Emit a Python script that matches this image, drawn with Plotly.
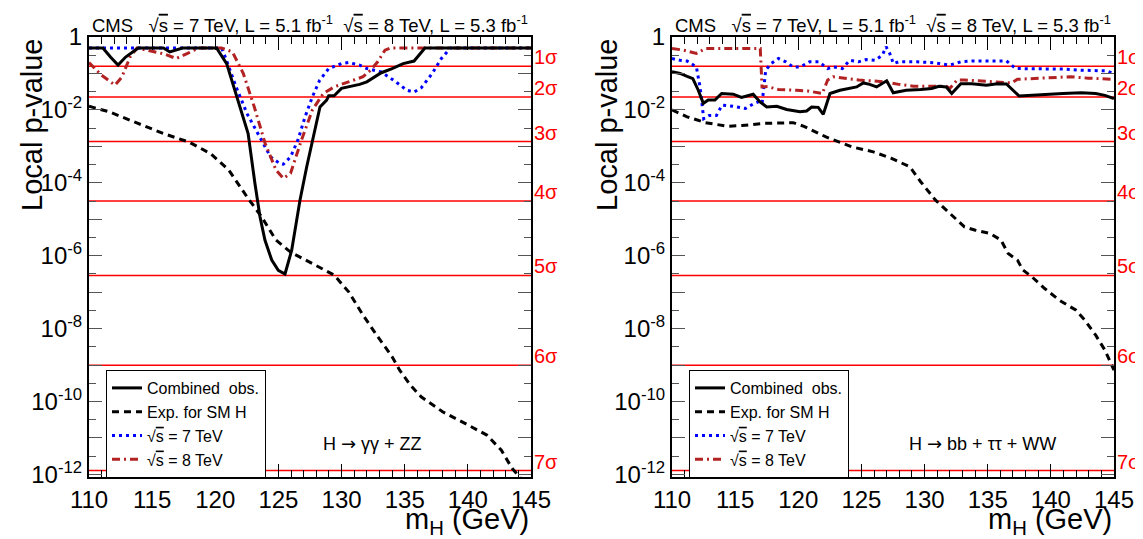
import numpy as np
import plotly.graph_objects as go

# ---- data, p-values stored as log10(p) ----
# left panel: H -> gamma gamma + ZZ
gz_obs_m = [110, 111.1, 111.7, 112.3, 112.9, 113.9, 115.9, 116.4, 117.4, 120.1, 120.9,
            121.7, 122.6, 123.14, 123.54, 123.93, 124.47, 124.99, 125.52, 126.05, 126.71,
            127.24, 127.9, 128.29, 128.82, 128.98, 129.41, 129.99, 131.43, 132.0, 133.15,
            134.0, 134.88, 135.74, 136.6, 145]
gz_obs_lp = [-0.301, -0.301, -0.55, -0.77, -0.55, -0.301, -0.301, -0.41, -0.301, -0.301, -0.73,
             -1.64, -2.65, -4.02, -4.93, -5.57, -6.12, -6.40, -6.50, -5.85, -4.47,
             -3.56, -2.47, -1.92, -1.73, -1.61, -1.61, -1.41, -1.30, -1.23, -0.98,
             -0.87, -0.73, -0.66, -0.301, -0.301]

gz_exp_m = [110, 111.58, 113.88, 115.9, 117.9, 119.63, 121.07, 122.5, 123.66, 124.8, 125.96,
            127.2, 129.41, 130.56, 131.7, 132.86, 134.0, 134.6, 135.45, 136.3, 138.0,
            139.77, 141.5, 142.64, 143.5, 144.08, 145]
gz_exp_lp = [-1.90, -2.05, -2.37, -2.65, -2.88, -3.2, -3.65, -4.38, -4.93, -5.57, -5.90,
             -6.12, -6.53, -6.99, -7.63, -8.22, -8.77, -9.14, -9.55, -9.87, -10.28,
             -10.6, -10.92, -11.33, -11.83, -12.06, -12.5]

gz_7_m = [110, 120.5, 120.79, 121.65, 122.51, 123.52, 124.38, 125.1, 125.39, 125.96, 126.54,
          127.11, 127.69, 128.26, 128.98, 129.99, 130.56, 131.43, 132.0, 133.15, 134.3,
          135.16, 135.74, 136.32, 137.18, 137.9, 138.62, 145]
gz_7_lp = [-0.301, -0.301, -0.55, -1.37, -2.10, -2.74, -3.29, -3.47, -3.49, -3.29, -2.83,
           -2.19, -1.64, -1.19, -0.865, -0.73, -0.70, -0.77, -0.865, -0.96, -1.23,
           -1.46, -1.51, -1.39, -1.0, -0.59, -0.301, -0.301]

gz_8_m = [110, 111.0, 112.06, 112.6, 113.25, 113.8, 116.0, 116.9, 117.8, 118.7, 120.5,
          121.36, 122.22, 123.09, 123.95, 124.81, 125.39, 125.96, 126.82, 127.69, 128.55,
          129.41, 130.56, 131.7, 132.3, 132.86, 133.44, 133.87, 145]
gz_8_lp = [-0.70, -1.05, -1.32, -1.10, -0.55, -0.301, -0.47, -0.59, -0.45, -0.301, -0.301,
           -0.41, -1.0, -1.92, -2.92, -3.65, -3.88, -3.74, -2.83, -2.0, -1.55,
           -1.37, -1.23, -1.09, -0.91, -0.68, -0.36, -0.301, -0.301]

# right panel: H -> bb + tautau + WW
bw_obs_m = [110, 110.64, 111.2, 111.65, 112.08, 112.48, 112.87, 113.4, 113.93, 114.85, 115.5,
            116.43, 116.97, 117.5, 118.3, 119.08, 120.13, 120.66, 121.06, 121.58, 121.98,
            122.51, 123.3, 123.92, 124.62, 125.15, 125.65, 126.2, 127.0, 127.52, 128.54,
            129.69, 130.56, 131.14, 131.72, 132.15, 132.87, 133.74, 134.89, 135.76, 136.48,
            137.49, 138.36, 139.51, 140.96, 142.4, 143.55, 144.28, 145]
bw_obs_lp = [-0.955, -1.0, -1.08, -1.14, -1.46, -1.82, -1.73, -1.73, -1.55, -1.57, -1.66,
             -1.57, -1.78, -1.92, -1.90, -1.99, -2.05, -2.03, -1.92, -1.93, -2.12,
             -1.55, -1.46, -1.41, -1.37, -1.26, -1.30, -1.37, -1.20, -1.53, -1.46,
             -1.44, -1.41, -1.35, -1.37, -1.55, -1.28, -1.28, -1.32, -1.28, -1.29,
             -1.62, -1.60, -1.58, -1.55, -1.53, -1.55, -1.60, -1.69]

bw_exp_m = [110, 111.2, 112.66, 114.39, 115.54, 117.28, 119.59, 120.45, 122.19, 124.2, 125.94,
            127.38, 128.83, 129.69, 130.85, 132.0, 133.16, 134.03, 135.18, 136.05, 136.62,
            137.35, 137.78, 138.5, 139.51, 140.67, 141.97, 142.69, 143.55, 144.28, 144.86, 145]
bw_exp_lp = [-2.0, -2.19, -2.35, -2.45, -2.43, -2.37, -2.35, -2.45, -2.74, -3.01, -3.15,
             -3.33, -3.56, -3.97, -4.47, -4.84, -5.21, -5.30, -5.39, -5.57, -5.94,
             -6.12, -6.39, -6.58, -6.90, -7.22, -7.49, -7.77, -8.18, -8.59, -9.05, -9.14]

bw_7_m = [110, 110.64, 111.2, 111.93, 112.22, 112.51, 112.95, 113.52, 113.96, 114.82, 115.83,
          116.41, 116.84, 117.13, 117.42, 117.85, 118.43, 119.01, 119.59, 120.16, 120.89,
          121.61, 122.33, 122.76, 123.49, 124.06, 124.78, 125.36, 126.08, 126.66, 126.95,
          127.24, 127.53, 127.96, 129.4, 130.85, 132.0, 132.87, 133.74, 135.18, 136.48,
          137.2, 138.07, 139.51, 140.96, 142.4, 143.55, 144.42, 145]
bw_7_lp = [-0.59, -0.64, -0.66, -0.82, -1.37, -2.24, -2.15, -2.15, -1.87, -1.90, -1.96,
           -1.84, -1.78, -1.83, -0.91, -0.73, -0.59, -0.68, -0.82, -0.82, -0.68,
           -0.68, -0.865, -0.82, -0.865, -0.64, -0.68, -0.62, -0.64, -0.50, -0.27,
           -0.45, -0.73, -0.68, -0.68, -0.71, -0.77, -0.68, -0.66, -0.66, -0.655,
           -0.865, -0.865, -0.865, -0.88, -0.91, -0.91, -0.93, -1.0]

bw_8_m = [110, 110.92, 111.93, 112.66, 116.99, 117.13, 117.57, 118.43, 119.88, 120.74, 121.9,
          122.33, 122.76, 123.63, 124.78, 125.65, 126.8, 127.96, 129.12, 130.56, 131.72,
          132.0, 132.58, 133.16, 134.31, 135.47, 136.91, 137.35, 138.36, 140.09, 141.53,
          142.98, 145]
bw_8_lp = [-0.316, -0.36, -0.45, -0.316, -0.316, -1.37, -1.36, -1.44, -1.46, -1.48, -1.55,
           -1.18, -1.09, -1.13, -1.18, -1.20, -1.23, -1.30, -1.35, -1.35, -1.35,
           -1.41, -1.18, -1.18, -1.20, -1.23, -1.26, -1.16, -1.14, -1.11, -1.09,
           -1.13, -1.16]

sigma_labels = ["1σ", "2σ", "3σ", "4σ", "5σ", "6σ", "7σ"]
sigma_p = [0.1587, 0.02275, 1.35e-3, 3.17e-5, 2.87e-7, 9.87e-10, 1.28e-12]

# the page body has an 8px margin, so the figure is made 8px smaller and every
# page position below is shifted by it
OFF = 8
W, H = 1143 - OFF, 539 - OFF
FONT = "Liberation Sans, Arial, Helvetica, sans-serif"
SQRTS = "√<span style='text-decoration:overline'>s</span>"
ARROW = "<span style='font-family:DejaVu Sans'>→</span>"


def px(x):
    return (x - OFF) / W


def py(y):
    return 1 - (y - OFF) / H


panels = [
    dict(x0=89, x1=531, title="H " + ARROW + " γγ + ZZ", tx=372, ytx=32, legend="legend",
         series=[(gz_obs_m, gz_obs_lp), (gz_exp_m, gz_exp_lp), (gz_7_m, gz_7_lp), (gz_8_m, gz_8_lp)]),
    dict(x0=672, x1=1114, title="H " + ARROW + " bb + ττ + WW", tx=982, ytx=607, legend="legend2",
         series=[(bw_obs_m, bw_obs_lp), (bw_exp_m, bw_exp_lp), (bw_7_m, bw_7_lp), (bw_8_m, bw_8_lp)]),
]

names = ["Combined\u00a0\u00a0obs.", "Exp. for SM H", SQRTS + " = 7 TeV", SQRTS + " = 8 TeV"]
styles = [dict(color="black", width=3, dash="solid"),
          dict(color="black", width=3, dash="7px,5px"),
          dict(color="#0000ff", width=3, dash="3px,4px"),
          dict(color="#b22222", width=3, dash="8px,4px,2px,4px")]

fig = go.Figure()
ytop, ybot = 37, 477

for i, pnl in enumerate(panels):
    xa = "x" if i == 0 else "x2"
    ya = "y" if i == 0 else "y2"
    # sigma lines
    for p in sigma_p:
        fig.add_trace(go.Scatter(x=[110, 145], y=[p, p], mode="lines", xaxis=xa, yaxis=ya,
                                 line=dict(color="#ff0000", width=1.5), showlegend=False,
                                 hoverinfo="skip"))
    order = [2, 3, 1, 0]
    for k in order:
        m, lp = pnl["series"][k]
        fig.add_trace(go.Scatter(x=m, y=[10 ** v for v in lp], mode="lines", xaxis=xa, yaxis=ya,
                                 name=names[k], line=styles[k], legend=pnl["legend"],
                                 legendrank=k + 1))
    for lab, p in zip(sigma_labels, sigma_p):
        fig.add_annotation(x=px(pnl["x1"] + 2), xref="paper", y=np.log10(p), yref=ya,
                           text=lab, showarrow=False, xanchor="left", yanchor="middle",
                           yshift=9, borderpad=0, font=dict(size=20, color="#ff0000", family=FONT))
    fig.add_annotation(x=px(pnl["tx"]), y=py(443), xref="paper", yref="paper",
                       text=pnl["title"], showarrow=False, xanchor="center", yanchor="middle",
                       font=dict(size=18, color="black", family=FONT))
    fig.add_annotation(x=px(pnl["x0"] + 1), y=py(24), xref="paper", yref="paper",
                       text="CMS\u00a0\u00a0\u00a0" + SQRTS + " = 7 TeV, L = 5.1 fb<sup>-1</sup>\u00a0\u00a0"
                            + SQRTS + " = 8 TeV, L = 5.3 fb<sup>-1</sup>",
                       showarrow=False, xanchor="left", yanchor="middle",
                       font=dict(size=18.5, color="black", family=FONT))
    fig.add_annotation(x=px(pnl["ytx"]), y=py(125), xref="paper", yref="paper",
                       text="Local p-value", textangle=-90, showarrow=False,
                       xanchor="center", yanchor="middle",
                       font=dict(size=29, color="black", family=FONT))
    fig.add_annotation(x=px(pnl["x1"]), y=py(521), xref="paper", yref="paper",
                       text="m<sub>H</sub> (GeV)", showarrow=False, xanchor="right",
                       yanchor="middle", font=dict(size=29, color="black", family=FONT))

decades = [10.0 ** -k for k in range(0, 13)]
dec_text = ["1"] + ["" if k % 2 else "10<sup>-%d</sup>" % k for k in range(1, 13)]
half_dec = [10.0 ** (-k - 0.5) for k in range(0, 13)]


def xaxis(x0, x1, anchor):
    return dict(domain=[px(x0), px(x1)], range=[110, 145], anchor=anchor, automargin=False,
                tickvals=list(range(110, 146, 5)), ticks="inside", ticklen=13, tickwidth=1,
                tickcolor="black", minor=dict(dtick=1, ticks="inside", ticklen=7, tickcolor="black"),
                mirror="allticks", showline=True, linewidth=2, linecolor="black",
                showgrid=False, zeroline=False, tickfont=dict(size=24, family=FONT, color="black"))


def yaxis(anchor):
    return dict(domain=[py(ybot), py(ytop)], type="log", range=[-12.07, 0],
                anchor=anchor, automargin=False, tickvals=decades, ticktext=dec_text,
                ticks="inside", ticklen=13, tickcolor="#555555", tickwidth=1,
                minor=dict(tickvals=half_dec, ticks="inside", ticklen=7, tickcolor="#555555"),
                mirror="allticks", showline=True, linewidth=2, linecolor="black",
                showgrid=False, zeroline=False, tickfont=dict(size=24, family=FONT, color="black"))


leg = dict(xanchor="left", yanchor="top", y=py(370), bordercolor="black", borderwidth=1,
           bgcolor="white", font=dict(size=16, family=FONT, color="black"),
           itemwidth=30, tracegroupgap=0)

fig.update_layout(
    width=W, height=H, margin=dict(l=0, r=0, t=0, b=0, autoexpand=False),
    paper_bgcolor="white", plot_bgcolor="white",
    font=dict(family=FONT, color="black"),
    xaxis=xaxis(89, 531, "y"), yaxis=yaxis("x"),
    xaxis2=xaxis(672, 1114, "y2"), yaxis2=yaxis("x2"),
    legend=dict(leg, x=px(106)), legend2=dict(leg, x=px(689)),
)

fig.write_html("out.html")
